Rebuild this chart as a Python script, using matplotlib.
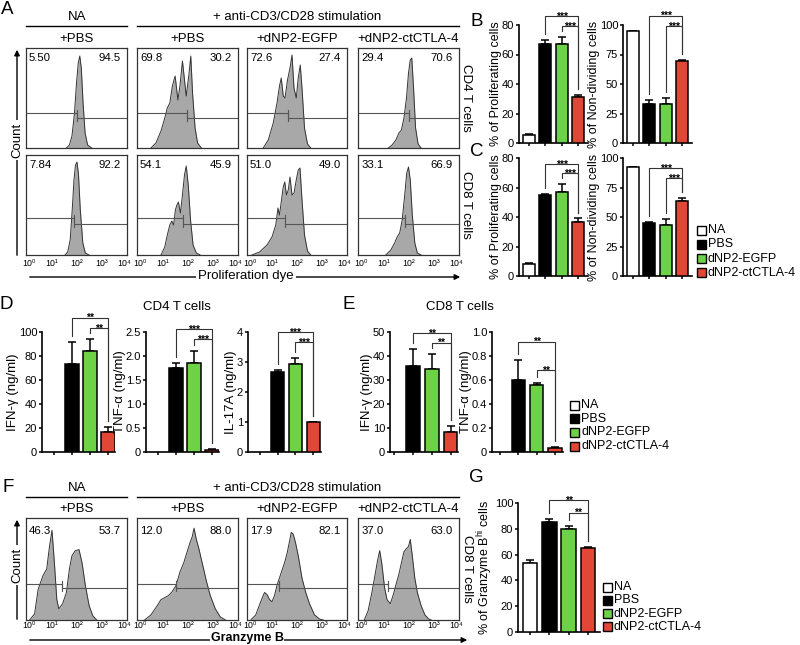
import numpy as np
import matplotlib
matplotlib.use('Agg')
import matplotlib.pyplot as plt
from matplotlib.patches import Rectangle, FancyArrowPatch
from matplotlib.lines import Line2D

plt.rcParams['font.family'] = ['Liberation Sans', 'DejaVu Sans']
plt.rcParams['mathtext.fontset'] = 'custom'
plt.rcParams['mathtext.rm'] = 'Liberation Sans'

W, H = 800, 645

# ---- histogram outlines (log10 intensity, relative count) ----
cd4_na = ([1.6, 1.72, 1.82, 1.92, 2.0, 2.07, 2.13, 2.19, 2.26, 2.34, 2.44, 2.6],
          [0, 0.03, 0.12, 0.35, 0.65, 0.85, 0.92, 0.8, 0.45, 0.15, 0.03, 0])
cd4_pbs = ([0.55, 0.75, 0.95, 1.1, 1.2, 1.3, 1.4, 1.51, 1.62, 1.7, 1.8, 1.95, 2.05, 2.13, 2.2, 2.3, 2.4, 2.55],
           [0, 0.05, 0.17, 0.3, 0.4, 0.45, 0.62, 0.72, 0.48, 0.62, 0.87, 0.52, 0.72, 0.92, 0.55, 0.2, 0.05, 0])
cd4_egfp = ([0.65, 0.85, 1.05, 1.2, 1.3, 1.37, 1.45, 1.52, 1.62, 1.72, 1.8, 1.88, 1.97, 2.05, 2.13, 2.2, 2.3, 2.42, 2.55],
            [0, 0.08, 0.25, 0.45, 0.62, 0.7, 0.52, 0.5, 0.68, 0.8, 0.93, 0.6, 0.5, 0.7, 0.83, 0.6, 0.2, 0.04, 0])
cd4_ctla = ([1.2, 1.35, 1.5, 1.62, 1.72, 1.82, 1.92, 2.0, 2.07, 2.13, 2.2, 2.28, 2.38, 2.5],
            [0, 0.03, 0.08, 0.15, 0.18, 0.3, 0.5, 0.75, 0.88, 0.9, 0.6, 0.2, 0.04, 0])
cd8_na = ([1.55, 1.65, 1.75, 1.83, 1.9, 1.96, 2.02, 2.08, 2.15, 2.25, 2.35, 2.5],
          [0, 0.03, 0.15, 0.45, 0.75, 0.9, 0.93, 0.8, 0.45, 0.12, 0.02, 0])
cd8_pbs = ([0.95, 1.1, 1.2, 1.3, 1.38, 1.45, 1.52, 1.58, 1.64, 1.72, 1.8, 1.88, 1.95, 2.03, 2.12, 2.22, 2.35, 2.5],
           [0, 0.08, 0.2, 0.3, 0.34, 0.3, 0.45, 0.5, 0.53, 0.42, 0.6, 0.8, 0.89, 0.7, 0.35, 0.1, 0.02, 0])
cd8_egfp = ([0.2, 0.5, 0.8, 1.0, 1.15, 1.24, 1.3, 1.38, 1.45, 1.51, 1.58, 1.65, 1.72, 1.8, 1.88, 1.97, 2.05, 2.12, 2.2, 2.3, 2.42, 2.55],
            [0, 0.03, 0.1, 0.18, 0.3, 0.47, 0.4, 0.55, 0.68, 0.73, 0.6, 0.65, 0.78, 0.6, 0.62, 0.75, 0.85, 0.87, 0.55, 0.2, 0.04, 0])
cd8_ctla = ([1.1, 1.3, 1.45, 1.55, 1.65, 1.75, 1.85, 1.93, 2.0, 2.07, 2.15, 2.25, 2.35, 2.5],
            [0, 0.05, 0.12, 0.18, 0.22, 0.35, 0.6, 0.82, 0.88, 0.75, 0.4, 0.12, 0.02, 0])
gzmb_na = ([0.14, 0.34, 0.48, 0.68, 0.82, 0.93, 1.03, 1.13, 1.22, 1.3, 1.45, 1.6, 1.72, 1.82, 1.95, 2.1, 2.22, 2.35, 2.5, 2.65, 2.8],
           [0, 0.06, 0.3, 0.44, 0.5, 0.72, 0.88, 0.54, 0.2, 0.11, 0.16, 0.27, 0.5, 0.63, 0.68, 0.69, 0.56, 0.34, 0.14, 0.04, 0])
gzmb_pbs = ([0.3, 0.55, 0.8, 0.95, 1.1, 1.25, 1.4, 1.55, 1.7, 1.85, 2.0, 2.1, 2.18, 2.26, 2.35, 2.45, 2.6, 2.75, 2.9, 3.1, 3.3, 3.5],
            [0, 0.05, 0.14, 0.2, 0.22, 0.24, 0.28, 0.34, 0.47, 0.56, 0.68, 0.76, 0.81, 0.9, 0.79, 0.7, 0.54, 0.38, 0.24, 0.11, 0.03, 0])
gzmb_egfp = ([0.15, 0.35, 0.55, 0.7, 0.8, 0.9, 1.0, 1.1, 1.2, 1.35, 1.5, 1.6, 1.7, 1.77, 1.85, 1.93, 2.05, 2.2, 2.35, 2.5, 2.7, 2.9, 3.05],
             [0, 0.05, 0.18, 0.27, 0.25, 0.2, 0.18, 0.24, 0.34, 0.45, 0.56, 0.65, 0.77, 0.86, 0.84, 0.77, 0.63, 0.41, 0.27, 0.16, 0.05, 0.01, 0])
gzmb_ctla = ([0.25, 0.4, 0.55, 0.68, 0.78, 0.86, 0.95, 1.05, 1.15, 1.28, 1.4, 1.52, 1.62, 1.72, 1.82, 1.92, 2.0, 2.07, 2.15, 2.25, 2.35, 2.5, 2.65, 2.8, 2.9],
             [0, 0.09, 0.27, 0.45, 0.59, 0.68, 0.54, 0.32, 0.2, 0.16, 0.25, 0.36, 0.45, 0.56, 0.67, 0.7, 0.72, 0.79, 0.63, 0.41, 0.27, 0.14, 0.05, 0.01, 0])

gates_cd4 = [2.02, 1.97, 1.64, 2.0]
gates_cd8 = [1.89, 1.84, 1.5, 1.87]
gates_gzmb = [1.44, 1.54, 1.28, 1.2]

pct_cd4_left = ['5.50', '69.8', '72.6', '29.4']
pct_cd4_right = ['94.5', '30.2', '27.4', '70.6']
pct_cd8_left = ['7.84', '54.1', '51.0', '33.1']
pct_cd8_right = ['92.2', '45.9', '49.0', '66.9']
pct_gzmb_left = ['46.3', '12.0', '17.9', '37.0']
pct_gzmb_right = ['53.7', '88.0', '82.1', '63.0']

col_titles = ['+PBS', '+PBS', '+dNP2-EGFP', '+dNP2-ctCTLA-4']
decade_labels = ['10⁰', '10¹', '10²', '10³', '10⁴']

# ---- bar chart values (NA, PBS, dNP2-EGFP, dNP2-ctCTLA-4) ----
groups = ['NA', 'PBS', 'dNP2-EGFP', 'dNP2-ctCTLA-4']
bar_colors = ['white', 'black', '#6ed246', '#e14637']

cd4_prolif = [5.5, 67, 67, 31]
cd4_prolif_err = [0.7, 3, 5, 1.5]
cd4_nondiv = [94.5, 33, 33, 69.3]
cd4_nondiv_err = [0.7, 3.5, 5, 1.2]
cd8_prolif = [8, 55, 57, 36.5]
cd8_prolif_err = [0.5, 0.8, 5.3, 2.5]
cd8_nondiv = [92, 45, 43, 63.5]
cd8_nondiv_err = [0.5, 0.8, 5.3, 2.7]
cd4_ifng = [None, 73, 84, 17]
cd4_ifng_err = [0, 19, 10.5, 4]
cd4_tnfa = [None, 1.75, 1.85, 0.04]
cd4_tnfa_err = [0, 0.1, 0.26, 0.03]
cd4_il17 = [None, 2.67, 2.95, 1.0]
cd4_il17_err = [0, 0.07, 0.2, 0.01]
cd8_ifng = [None, 36, 34.5, 8.5]
cd8_ifng_err = [0, 7, 6.5, 2.5]
cd8_tnfa = [None, 0.6, 0.555, 0.035]
cd8_tnfa_err = [0, 0.17, 0.02, 0.01]
gzmb_hi = [53.7, 85.5, 80, 65]
gzmb_hi_err = [2, 2, 2, 0.8]

fig = plt.figure(figsize=(W / 100, H / 100), dpi=100)


def px_axes(x0, y0, x1, y1):
    return fig.add_axes([x0 / W, 1 - y1 / H, (x1 - x0) / W, (y1 - y0) / H])


def ftext(x, y, s, **kw):
    return fig.text(x / W, 1 - y / H, s, **kw)


def hline(x0, x1, y, lw=1.0):
    fig.add_artist(Line2D([x0 / W, x1 / W], [1 - y / H, 1 - y / H], transform=fig.transFigure,
                          color='black', lw=lw))


def arrow(x0, y0, x1, y1):
    fig.add_artist(FancyArrowPatch((x0 / W, 1 - y0 / H), (x1 / W, 1 - y1 / H), transform=fig.transFigure,
                                   arrowstyle='-|>', mutation_scale=8, lw=1.0, color='black', zorder=1))


def draw_hist(rect, hist, gate, left, right, gate_h, num_y, show_ticks, tick_pad=3):
    ax = px_axes(*rect)
    xs, ys = hist
    ax.fill_between(xs, ys, color='#a8a8a8', lw=0)
    ax.plot(xs, ys, color='#333333', lw=0.7)
    h1, h2 = gate_h
    ax.plot([0, gate], [h1, h1], color='#555555', lw=0.8)
    ax.plot([gate, gate], [h1 - 0.03, h1 + 0.03], color='#555555', lw=0.8)
    ax.plot([gate, 4], [h2, h2], color='#555555', lw=0.8)
    ax.plot([gate, gate], [h2 - 0.03, h2 + 0.03], color='#555555', lw=0.8)
    ax.text(0.03, num_y, left, transform=ax.transAxes, fontsize=8.2, va='center', ha='left')
    ax.text(0.94, num_y, right, transform=ax.transAxes, fontsize=8.2, va='center', ha='right')
    ax.set_xlim(0, 4)
    ax.set_ylim(0, 1)
    ax.set_yticks([])
    # end labels sit a little inside the box, as in the original
    ax.set_xticks([0.13, 1, 2, 3, 3.87])
    if show_ticks:
        ax.set_xticklabels(decade_labels, fontsize=6.3)
    else:
        ax.set_xticklabels([])
    ax.tick_params(axis='x', length=0, pad=tick_pad)
    for sp in ax.spines.values():
        sp.set_linewidth(0.9)
        sp.set_color('#333333')
    return ax


def bar_panel(rect, xlim, vals, errs, ymax, yticks, yticklabels, ylabel, brackets, stars,
              bar_w=0.73, ylabel_fs=9):
    ax = px_axes(*rect)
    for p in range(len(groups)):
        if vals[p] is None:
            continue
        ax.bar(p, vals[p], width=bar_w, color=bar_colors[p], edgecolor='black', linewidth=1.1, zorder=3)
        ax.errorbar(p, vals[p], yerr=[[0], [errs[p]]], fmt='none', ecolor='black',
                    elinewidth=1.1, capsize=3, capthick=1.1, zorder=2)
    for (i, j, yb), s in zip(brackets, stars):
        yi = vals[i] + errs[i] + 0.05 * ymax
        yj = vals[j] + errs[j] + 0.05 * ymax
        ax.plot([i, i, j, j], [yi, yb, yb, yj], color='#333333', lw=0.8, clip_on=False, zorder=4)
        ax.annotate(s, xy=((i + j) / 2, yb), xytext=(0, -2.5), textcoords='offset points',
                    ha='center', va='baseline', fontsize=7.5, fontweight='bold', annotation_clip=False)
    ax.set_xlim(*xlim)
    ax.set_ylim(0, ymax)
    ax.set_xticks(range(len(groups)))
    ax.set_xticklabels([])
    ax.set_yticks(yticks)
    ax.set_yticklabels(yticklabels, fontsize=8)
    ax.tick_params(length=2.5, width=1.1, pad=1)
    ax.spines['top'].set_visible(False)
    ax.spines['right'].set_visible(False)
    ax.spines['left'].set_linewidth(1.2)
    ax.spines['bottom'].set_linewidth(1.2)
    ax.set_ylabel(ylabel, fontsize=ylabel_fs, labelpad=0)
    return ax


def legend_at(x, y, step):
    for k, (lab, col) in enumerate(zip(groups, bar_colors)):
        yy = y + k * step
        fig.add_artist(Rectangle((x / W, 1 - (yy + 4.5) / H), 9 / W, 9 / H, transform=fig.transFigure,
                                 facecolor=col, edgecolor='black', lw=1.0))
        ftext(x + 11, yy, lab, va='center', ha='left', fontsize=9)


# ================= Panel A =================
cols = [(26, 127), (137, 238), (247, 347), (358, 459)]
rows_a = [(48, 148), (155, 255)]
ftext(7, 10, 'A', fontsize=13.5, ha='center', va='center')
ftext(77, 17, 'NA', fontsize=9.5, ha='center', va='center')
ftext(297, 17, '+ anti-CD3/CD28 stimulation', fontsize=9.5, ha='center', va='center')
hline(26, 127, 26)
hline(137, 459, 26)
for (c0, c1), t in zip(cols, col_titles):
    ftext((c0 + c1) / 2, 39, t, fontsize=9.5, ha='center', va='center')

hists_cd4 = [cd4_na, cd4_pbs, cd4_egfp, cd4_ctla]
hists_cd8 = [cd8_na, cd8_pbs, cd8_egfp, cd8_ctla]
for k, (c0, c1) in enumerate(cols):
    draw_hist((c0, rows_a[0][0], c1, rows_a[0][1]), hists_cd4[k], gates_cd4[k],
              pct_cd4_left[k], pct_cd4_right[k], (0.35, 0.30), 0.9, False)
    draw_hist((c0, rows_a[1][0], c1, rows_a[1][1]), hists_cd8[k], gates_cd8[k],
              pct_cd8_left[k], pct_cd8_right[k], (0.37, 0.31), 0.9, True)

ftext(466, 98, 'CD4 T cells', rotation=270, fontsize=9.5, ha='center', va='center')
ftext(466, 205, 'CD8 T cells', rotation=270, fontsize=9.5, ha='center', va='center')
arrow(17, 258, 17, 47)
ftext(17, 140, 'Count', rotation=90, fontsize=9.5, ha='center', va='center', zorder=5,
      bbox=dict(facecolor='white', edgecolor='none', pad=1.5))
arrow(27, 277, 463, 277)
ftext(246, 276, 'Proliferation dye', fontsize=9.5, ha='center', va='center', zorder=5,
      bbox=dict(facecolor='white', edgecolor='none', pad=1.5))

# ================= Panels B and C =================
ftext(477, 22, 'B', fontsize=13.5, ha='center', va='center')
ftext(477, 152, 'C', fontsize=13.5, ha='center', va='center')
bc_xlim = (-0.58, 3.6)
bar_panel((519, 25, 588, 143), bc_xlim, cd4_prolif, cd4_prolif_err, 80, [0, 20, 40, 60, 80],
          ['0', '20', '40', '60', '80'], '% of Proliferating cells',
          [(1, 3, 86), (2, 3, 79)], ['***', '***'])
bar_panel((623, 25, 692, 143), bc_xlim, cd4_nondiv, cd4_nondiv_err, 100, [0, 25, 50, 75, 100],
          ['0', '25', '50', '75', '100'], '% of Non-dividing cells',
          [(1, 3, 108), (2, 3, 99)], ['***', '***'])
bar_panel((519, 158, 588, 276), bc_xlim, cd8_prolif, cd8_prolif_err, 80, [0, 20, 40, 60, 80],
          ['0', '20', '40', '60', '80'], '% of Proliferating cells',
          [(1, 3, 76), (2, 3, 69.5)], ['***', '***'])
bar_panel((623, 158, 692, 276), bc_xlim, cd8_nondiv, cd8_nondiv_err, 100, [0, 25, 50, 75, 100],
          ['0', '25', '50', '75', '100'], '% of Non-dividing cells',
          [(1, 3, 91.5), (2, 3, 83)], ['***', '***'])
legend_at(697, 230, 14.3)

# ================= Panel D =================
ftext(6, 305, 'D', fontsize=13.5, ha='center', va='center')
ftext(177, 307, 'CD4 T cells', fontsize=9.5, ha='center', va='center')
bar_panel((42, 332, 115, 452), (-0.67, 3.39), cd4_ifng, cd4_ifng_err, 100, [0, 20, 40, 60, 80, 100],
          ['0', '20', '40', '60', '80', '100'], 'IFN-γ (ng/ml)',
          [(1, 3, 112), (2, 3, 103)], ['**', '**'], ylabel_fs=9.5)
bar_panel((146, 332, 219, 452), (-0.67, 3.39), cd4_tnfa, cd4_tnfa_err, 2.5, [0, 0.5, 1.0, 1.5, 2.0, 2.5],
          ['0', '0.5', '1.0', '1.5', '2.0', '2.5'], 'TNF-α (ng/ml)',
          [(1, 3, 2.56), (2, 3, 2.35)], ['***', '***'], ylabel_fs=9.5)
bar_panel((248, 332, 321, 452), (-0.7, 3.45), cd4_il17, cd4_il17_err, 4, [0, 1, 2, 3, 4],
          ['0', '1', '2', '3', '4'], 'IL-17A (ng/ml)',
          [(1, 3, 4.0), (2, 3, 3.67)], ['***', '***'], ylabel_fs=9.5)

# ================= Panel E =================
ftext(349, 305, 'E', fontsize=13.5, ha='center', va='center')
ftext(460, 307, 'CD8 T cells', fontsize=9.5, ha='center', va='center')
bar_panel((390, 332, 458, 452), (-0.24, 3.4), cd8_ifng, cd8_ifng_err, 50, [0, 10, 20, 30, 40, 50],
          ['0', '10', '20', '30', '40', '50'], 'IFN-γ (ng/ml)',
          [(1, 3, 49.4), (2, 3, 45.5)], ['**', '**'], ylabel_fs=9.5)
bar_panel((492, 332, 563, 452), (-0.44, 3.44), cd8_tnfa, cd8_tnfa_err, 1.0, [0, 0.2, 0.4, 0.6, 0.8, 1.0],
          ['0', '0.2', '0.4', '0.6', '0.8', '1.0'], 'TNF-α (ng/ml)',
          [(1, 3, 0.92), (2, 3, 0.68)], ['**', '**'], ylabel_fs=9.5)
legend_at(570, 405, 13.7)

# ================= Panel F =================
row_f = (518, 620)
ftext(8, 487, 'F', fontsize=13.5, ha='center', va='center')
ftext(77, 488, 'NA', fontsize=9.5, ha='center', va='center')
ftext(297, 488, '+ anti-CD3/CD28 stimulation', fontsize=9.5, ha='center', va='center')
hline(26, 127, 497)
hline(137, 459, 497)
for (c0, c1), t in zip(cols, col_titles):
    ftext((c0 + c1) / 2, 509, t, fontsize=9.5, ha='center', va='center')
hists_gzmb = [gzmb_na, gzmb_pbs, gzmb_egfp, gzmb_ctla]
for k, (c0, c1) in enumerate(cols):
    draw_hist((c0, row_f[0], c1, row_f[1]), hists_gzmb[k], gates_gzmb[k],
              pct_gzmb_left[k], pct_gzmb_right[k], (0.354, 0.31), 0.87, True, tick_pad=1)
ftext(467, 569, 'CD8 T cells', rotation=270, fontsize=9.5, ha='center', va='center')
arrow(17, 622, 17, 517)
ftext(17, 565, 'Count', rotation=90, fontsize=9.5, ha='center', va='center', zorder=5,
      bbox=dict(facecolor='white', edgecolor='none', pad=1.5))
arrow(27, 640, 470, 640)
ftext(247, 638.5, 'Granzyme B', fontsize=9, fontweight='bold', ha='center', va='center', zorder=5,
      bbox=dict(facecolor='white', edgecolor='none', pad=0.5))

# ================= Panel G =================
ftext(476, 478, 'G', fontsize=13.5, ha='center', va='center')
bar_panel((518, 503, 600, 632), (-0.62, 3.62), gzmb_hi, gzmb_hi_err, 100, [0, 20, 40, 60, 80, 100],
          ['0', '20', '40', '60', '80', '100'], r'% of Granzyme B$^{\mathregular{hi}}$ cells',
          [(1, 3, 102), (2, 3, 92.5)], ['**', '**'], bar_w=0.75)
legend_at(603, 587, 13.3)

fig.savefig('out.png', dpi=100)
